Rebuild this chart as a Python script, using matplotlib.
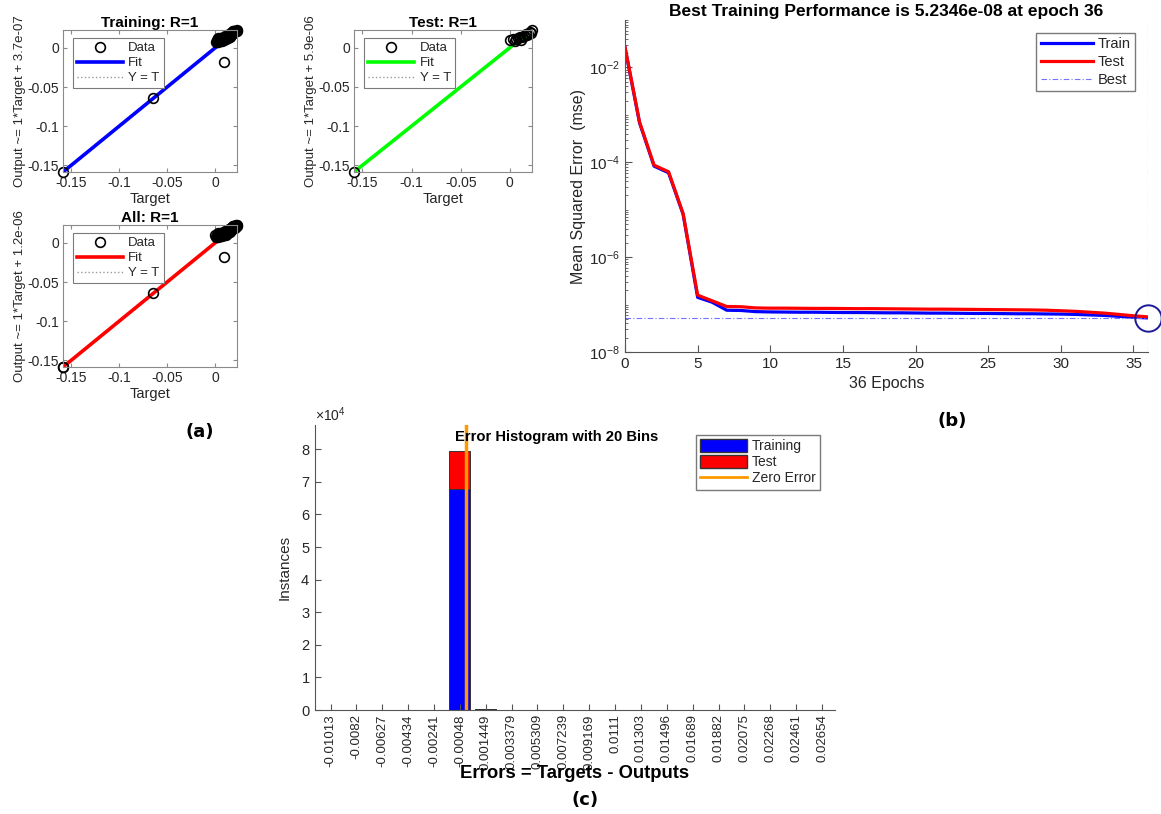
import matplotlib
matplotlib.use("Agg")
import matplotlib.pyplot as plt
import numpy as np
from matplotlib.lines import Line2D
from matplotlib.patches import Patch
from matplotlib.ticker import LogLocator, NullFormatter, FixedLocator

plt.rcParams['font.family'] = ['Liberation Sans', 'DejaVu Sans']
plt.rcParams['mathtext.fontset'] = 'custom'
plt.rcParams['mathtext.rm'] = 'Liberation Sans'
plt.rcParams['mathtext.it'] = 'Liberation Sans:italic'

# ---------------- data: regression (a) ----------------
train_target = [-0.1585, -0.065, 0.0095,
                0.002, 0.003, 0.004, 0.005, 0.006, 0.007, 0.008, 0.009, 0.010, 0.011,
                0.012, 0.013, 0.014, 0.015, 0.016, 0.017, 0.018, 0.019, 0.020, 0.021,
                0.0228, 0.003, 0.005, 0.007, 0.009, 0.011, 0.013, 0.015, 0.017, 0.019,
                0.004, 0.008, 0.012, 0.016, 0.020, 0.001, 0.006, 0.010, 0.014, 0.018,
                0.0015, 0.0035, 0.0055, 0.0075, 0.0095, 0.0115, 0.0135, 0.0155, 0.0175,
                0.0195, 0.0215, 0.0025, 0.0065, 0.0105, 0.0145, 0.0185, 0.0225]
train_output = [-0.1585, -0.0645, -0.018,
                0.008, 0.009, 0.009, 0.010, 0.010, 0.011, 0.011, 0.012, 0.012, 0.013,
                0.014, 0.014, 0.015, 0.016, 0.017, 0.017, 0.018, 0.019, 0.020, 0.021,
                0.0228, 0.011, 0.012, 0.009, 0.010, 0.011, 0.016, 0.014, 0.019, 0.021,
                0.011, 0.013, 0.012, 0.015, 0.022, 0.007, 0.013, 0.014, 0.018, 0.020,
                0.010, 0.008, 0.011, 0.013, 0.013, 0.012, 0.013, 0.017, 0.018,
                0.020, 0.022, 0.012, 0.009, 0.015, 0.016, 0.021, 0.021]
test_target = [-0.1585, 0.000, 0.003, 0.006, 0.008, 0.010, 0.012, 0.014, 0.016,
               0.018, 0.020, 0.022, 0.005, 0.011, 0.017, 0.021]
test_output = [-0.1585, 0.010, 0.011, 0.011, 0.012, 0.013, 0.014, 0.015, 0.017,
               0.018, 0.020, 0.0225, 0.009, 0.010, 0.016, 0.019]
all_target = train_target + test_target
all_output = train_output + test_output
fit_offsets = [3.7e-07, 5.9e-06, 1.2e-06]
reg_titles = ["Training: R=1", "Test: R=1", "All: R=1"]
reg_ylabels = ["Output ~= 1*Target + 3.7e-07",
               "Output ~= 1*Target + 5.9e-06",
               "Output ~= 1*Target + 1.2e-06"]
reg_ticks = [-0.15, -0.1, -0.05, 0]
reg_ticklabels = ["-0.15", "-0.1", "-0.05", "0"]

# ---------------- data: performance (b) ----------------
epochs = list(range(37))
perf_train = [2.6e-2, 6.8e-4, 8.3e-5, 6.0e-5, 8.0e-6, 1.42e-7, 1.12e-7, 7.6e-8, 7.5e-8,
              7.1e-8, 7.0e-8, 6.95e-8, 6.9e-8, 6.9e-8, 6.85e-8, 6.8e-8, 6.8e-8, 6.75e-8,
              6.7e-8, 6.7e-8, 6.65e-8, 6.6e-8, 6.6e-8, 6.55e-8, 6.5e-8, 6.5e-8, 6.45e-8,
              6.4e-8, 6.4e-8, 6.35e-8, 6.3e-8, 6.2e-8, 6.05e-8, 5.9e-8, 5.65e-8, 5.4e-8,
              5.2346e-8]
perf_test = [2.7e-2, 7.1e-4, 8.7e-5, 6.3e-5, 8.3e-6, 1.58e-7, 1.2e-7, 9.1e-8, 9.0e-8,
             8.5e-8, 8.4e-8, 8.4e-8, 8.35e-8, 8.3e-8, 8.3e-8, 8.25e-8, 8.2e-8, 8.2e-8,
             8.15e-8, 8.1e-8, 8.05e-8, 8.0e-8, 8.0e-8, 7.95e-8, 7.9e-8, 7.85e-8, 7.8e-8,
             7.75e-8, 7.7e-8, 7.6e-8, 7.4e-8, 7.2e-8, 6.9e-8, 6.6e-8, 6.2e-8, 5.8e-8,
             5.5e-8]
best_epoch = 36
best_perf = 5.2346e-08
perf_xticks = [0, 5, 10, 15, 20, 25, 30, 35]

# ---------------- data: error histogram (c) ----------------
bin_labels = ["-0.01013", "-0.0082", "-0.00627", "-0.00434", "-0.00241", "-0.00048",
              "0.001449", "0.003379", "0.005309", "0.007239", "0.009169", "0.0111",
              "0.01303", "0.01496", "0.01689", "0.01882", "0.02075", "0.02268",
              "0.02461", "0.02654"]
hist_train = [0, 0, 0, 0, 0, 67800, 350, 0, 0, 0, 0, 0, 0, 0, 0, 0, 0, 0, 0, 0]
hist_test = [0, 0, 0, 0, 0, 11700, 60, 0, 0, 0, 0, 0, 0, 0, 0, 0, 0, 0, 0, 0]
zero_error = 0.0

W, H = 1161, 814
fig = plt.figure(figsize=(W / 100, H / 100), dpi=100)


def ax_px(x0, y0, x1, y1):
    return fig.add_axes([x0 / W, 1 - y1 / H, (x1 - x0) / W, (y1 - y0) / H])


TXT = '#262626'
GRID = '#8a8a8a'


def reg_plot(ax, t, o, color, title, ylabel, offset):
    lo = min(min(t), min(o))
    hi = max(max(t), max(o))
    yt, = ax.plot([lo, hi], [lo, hi], ':', color='#9a9a9a', lw=1.0)
    fit, = ax.plot([lo, hi], [lo + offset, hi + offset], '-', color=color, lw=2.6)
    data, = ax.plot(t, o, 'o', mfc='none', mec='k', ms=7, mew=1.2, clip_on=False)
    ax.set_xlim(lo, hi)
    ax.set_ylim(lo, hi)
    ax.set_xticks(reg_ticks)
    ax.set_xticklabels(reg_ticklabels)
    ax.set_yticks(reg_ticks)
    ax.set_yticklabels(reg_ticklabels)
    ax.tick_params(direction='in', top=True, right=True, labelsize=10,
                   colors=GRID, labelcolor=TXT, length=3, pad=3)
    for s in ax.spines.values():
        s.set_color(GRID)
        s.set_linewidth(0.8)
    ax.set_title(title, fontsize=11, fontweight='bold', pad=2, color='k')
    ax.set_xlabel('Target', fontsize=10.5, color=TXT, labelpad=1)
    ax.set_ylabel(ylabel, fontsize=9.5, color=TXT, labelpad=1)
    leg = ax.legend([data, fit, yt], ['Data', 'Fit', 'Y = T'], loc='upper left',
                    bbox_to_anchor=(0.057, 0.944), borderaxespad=0, fontsize=9.5,
                    handlelength=3.5, labelspacing=0.22, borderpad=0.3, handletextpad=0.4,
                    fancybox=False, framealpha=1, edgecolor='#7a7a7a')
    leg.get_frame().set_linewidth(0.8)
    for txt in leg.get_texts():
        txt.set_color(TXT)


ax1 = ax_px(63, 30, 237, 172)
reg_plot(ax1, train_target, train_output, 'blue', reg_titles[0], reg_ylabels[0], fit_offsets[0])
ax2 = ax_px(354, 30, 532, 172)
reg_plot(ax2, test_target, test_output, (0, 1, 0), reg_titles[1], reg_ylabels[1], fit_offsets[1])
ax3 = ax_px(63, 225, 237, 367)
reg_plot(ax3, all_target, all_output, 'red', reg_titles[2], reg_ylabels[2], fit_offsets[2])

# ---------------- (b) performance ----------------
axb = ax_px(625, 20, 1148, 352)
l_tr, = axb.semilogy(epochs, perf_train, color='blue', lw=2.3)
l_te, = axb.semilogy(epochs, perf_test, color='red', lw=2.3)
best_style = dict(color=(0.45, 0.45, 1.0), lw=0.8, ls=(0, (5, 2, 1, 2)))
l_best = axb.axhline(best_perf, **best_style)
axb.axvline(best_epoch, **best_style)
axb.plot([best_epoch], [best_perf], 'o', ms=19, mfc='none', mec=(0.1, 0.1, 0.6), mew=1.4,
         clip_on=False)
axb.set_xlim(0, 36)
axb.set_ylim(1e-8, 1e-1)
axb.set_xticks(perf_xticks)
axb.yaxis.set_major_locator(FixedLocator([1e-8, 1e-6, 1e-4, 1e-2]))
axb.yaxis.set_minor_locator(LogLocator(base=10, subs=np.arange(1, 10), numticks=50))
axb.yaxis.set_minor_formatter(NullFormatter())
axb.set_yticklabels(['$10^{-8}$', '$10^{-6}$', '$10^{-4}$', '$10^{-2}$'])
axb.tick_params(which='both', direction='in', colors='#555555', labelcolor=TXT, labelsize=11)
axb.tick_params(which='major', length=5)
axb.tick_params(which='minor', length=2.5)
for s in ['top', 'right']:
    axb.spines[s].set_visible(False)
for s in ['left', 'bottom']:
    axb.spines[s].set_color('#555555')
axb.set_title('Best Training Performance is 5.2346e-08 at epoch 36', fontsize=12.5,
              fontweight='bold', pad=3)
axb.set_xlabel('36 Epochs', fontsize=11.5, color=TXT, labelpad=4)
axb.set_ylabel('Mean Squared Error  (mse)', fontsize=11.5, color=TXT, labelpad=2)
legb = axb.legend([l_tr, l_te, l_best], ['Train', 'Test', 'Best'], loc='upper right',
                  bbox_to_anchor=((1135 - 625) / 523, 1 - (33 - 20) / 332), borderaxespad=0,
                  fontsize=10.5, handlelength=3.6,
                  labelspacing=0.25, borderpad=0.3, handletextpad=0.3,
                  fancybox=False, framealpha=1, edgecolor='#7a7a7a')
for txt in legb.get_texts():
    txt.set_color(TXT)

# ---------------- (c) histogram ----------------
axc = ax_px(315, 425, 835, 710)
centers = np.array([float(s) for s in bin_labels])
bw = (centers[-1] - centers[0]) / (len(centers) - 1)
b1 = axc.bar(centers, hist_train, width=0.82 * bw, color='blue', edgecolor='#333333', lw=0.7)
b2 = axc.bar(centers, hist_test, width=0.82 * bw, bottom=hist_train, color='red',
             edgecolor='#333333', lw=0.7)
zl = axc.axvline(zero_error, color=(1.0, 0.6, 0.0), lw=2.5)
axc.set_xlim(centers[0] - 0.6 * bw, centers[-1] + 0.5 * bw)
axc.set_ylim(0, 1.1 * (hist_train[5] + hist_test[5]))
axc.set_xticks(centers)
axc.set_xticklabels(bin_labels, rotation=90)
axc.set_yticks([0, 1e4, 2e4, 3e4, 4e4, 5e4, 6e4, 7e4, 8e4])
axc.ticklabel_format(axis='y', style='sci', scilimits=(4, 4), useMathText=True)
axc.yaxis.get_offset_text().set_fontsize(10)
axc.yaxis.get_offset_text().set_color('#555555')
axc.tick_params(direction='in', colors='#555555', labelcolor=TXT, length=4)
axc.tick_params(axis='x', labelsize=9.5, pad=3)
axc.tick_params(axis='y', labelsize=10.5)
for s in ['top', 'right']:
    axc.spines[s].set_visible(False)
for s in ['left', 'bottom']:
    axc.spines[s].set_color('#555555')
axc.text((557 - 315) / 520, (710 - 437) / 285, 'Error Histogram with 20 Bins',
         transform=axc.transAxes, fontsize=10.6, fontweight='bold', ha='center', va='center',
         zorder=5)
axc.set_xlabel('Errors = Targets - Outputs', fontsize=13.3, fontweight='bold')
axc.xaxis.set_label_coords((575 - 315) / 520, (710 - 773) / 285)
axc.xaxis.label.set_va('center')
axc.set_ylabel('Instances', fontsize=11, color=TXT)
axc.yaxis.set_label_coords(-0.045, 0.5)
legc = axc.legend([Patch(facecolor='blue', edgecolor='#333333'),
                   Patch(facecolor='red', edgecolor='#333333'),
                   Line2D([], [], color=(1.0, 0.6, 0.0), lw=2)],
                  ['Training', 'Test', 'Zero Error'], loc='upper left',
                  bbox_to_anchor=((696 - 315) / 520, 1 - (435 - 425) / 285), borderaxespad=0,
                  fontsize=10, handlelength=3.4, handleheight=1.0, labelspacing=0.15,
                  borderpad=0.3, handletextpad=0.3, fancybox=False, framealpha=1,
                  edgecolor='#7a7a7a')
for txt in legc.get_texts():
    txt.set_color(TXT)

# panel labels
fig.text(200 / W, 1 - 432 / H, '(a)', fontsize=13, fontweight='bold',
         family='DejaVu Sans', ha='center', va='center')
fig.text(952 / W, 1 - 421 / H, '(b)', fontsize=13, fontweight='bold',
         family='DejaVu Sans', ha='center', va='center')
fig.text(585 / W, 1 - 800 / H, '(c)', fontsize=13, fontweight='bold',
         family='DejaVu Sans', ha='center', va='center')

fig.savefig('out.png', dpi=100, facecolor='white')
